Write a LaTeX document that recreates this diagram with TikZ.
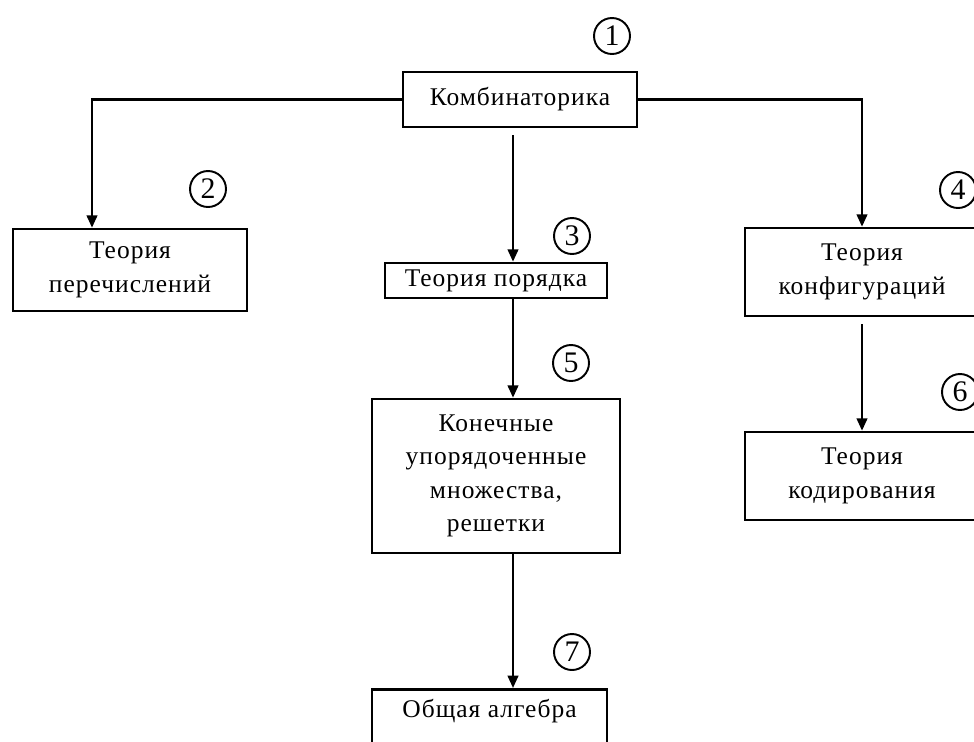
\documentclass[tikz,border=0pt]{standalone}
\usepackage{fontspec}
\setmainfont{Liberation Serif}[LetterSpace=4]
\usetikzlibrary{arrows.meta}
\tikzset{
  topic/.style={draw, line width=1.5pt, align=center, inner sep=2pt, font=\fontsize{14.5}{19}\selectfont},
  num/.style={draw, circle, line width=1.1pt, minimum size=0.72cm, inner sep=0pt, font=\fontsize{17}{17}\selectfont},
  link/.style={line width=1.3pt, -{Triangle[length=7pt,width=6pt]}},
}

\begin{document}
\begin{tikzpicture}[x=0.02cm,y=-0.02cm]
  \clip (0,0) rectangle (974,741);
  \fill[white] (0,0) rectangle (974,741);
  % boxes
  \node[topic, minimum width=4.68cm, minimum height=1.1cm] (komb) at (520,99.5) {Комбинаторика};
  \node[topic, minimum width=4.68cm, minimum height=1.64cm] (perech) at (130,270) {Теория\\перечислений};
  \node[topic, minimum width=4.44cm, minimum height=0.7cm] (poryadok) at (496,280.5) {Теория порядка};
  \node[topic, minimum width=4.68cm, minimum height=1.76cm] (konfig) at (862,272) {Теория\\конфигураций};
  \node[topic, minimum width=4.96cm, minimum height=3.08cm] (konech) at (496,476) {Конечные\\упорядоченные\\множества,\\решетки};
  \node[topic, minimum width=4.68cm, minimum height=1.76cm] (kodir) at (862,476) {Теория\\кодирования};
  \node[topic, anchor=north, minimum width=4.7cm, text height=14pt, text depth=1cm] (algebra) at (489.5,688) {Общая алгебра};
  % numbers
  \node[num] (n1) at (612,36) {1};
  \node[num] (n2) at (208,189) {2};
  \node[num] (n3) at (572,236) {3};
  \node[num] (n4) at (958,190) {4};
  \node[num] (n5) at (571,363) {5};
  \node[num] (n6) at (960,392) {6};
  \node[num] (n7) at (572,652) {7};
  % connectors
  \coordinate (leftx) at (92,0);
  \coordinate (midx) at (513,0);
  \draw[link] (komb.west) -| (leftx |- perech.north);
  \draw[link] (komb.east) -| (konfig.north);
  \draw[link, shorten <=4pt] (komb.south -| midx) -- (midx |- poryadok.north);
  \draw[link] (poryadok.south -| midx) -- (midx |- konech.north);
  \draw[link] (konech.south -| midx) -- (midx |- algebra.north);
  \draw[link, shorten <=4pt] (konfig.south) -- (kodir.north);
\end{tikzpicture}
\end{document}
